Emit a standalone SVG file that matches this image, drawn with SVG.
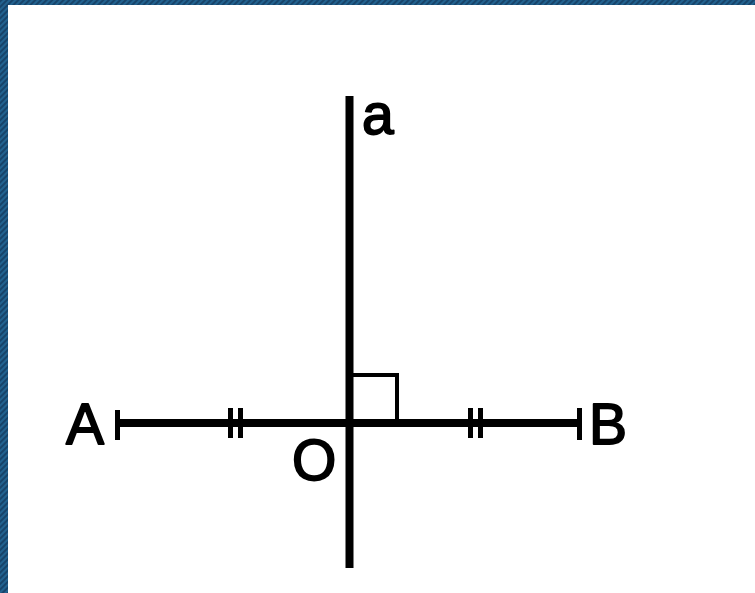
<svg xmlns="http://www.w3.org/2000/svg" width="755" height="593" viewBox="0 0 755 593">
<defs>
<pattern id="stripe" width="4" height="4" patternUnits="userSpaceOnUse" patternTransform="rotate(45)">
<rect width="4" height="4" fill="#22628f"/>
<rect width="2" height="4" fill="#17446a"/>
</pattern>
</defs>
<style>
.ln{stroke:#000;stroke-linecap:butt;fill:none}
.lbl{font-family:"Liberation Sans",Arial,sans-serif;font-size:57px;fill:#000;stroke:#000;stroke-width:1.8;stroke-linejoin:round}
</style>
<rect width="755" height="593" fill="#fff"/>
<rect x="0" y="0" width="755" height="5" fill="url(#stripe)"/>
<rect x="0" y="0" width="8" height="593" fill="url(#stripe)"/>
<g id="connectors">
<line class="ln" x1="349.5" y1="96" x2="349.5" y2="568" stroke-width="8" stroke-linecap="round"/>
<line class="ln" x1="116" y1="423" x2="580" y2="423" stroke-width="8"/>
<line class="ln" x1="117.5" y1="410" x2="117.5" y2="440" stroke-width="5"/>
<line class="ln" x1="579.5" y1="408" x2="579.5" y2="440" stroke-width="5"/>
<line class="ln" x1="230.5" y1="408" x2="230.5" y2="438" stroke-width="5"/>
<line class="ln" x1="240.5" y1="408" x2="240.5" y2="438" stroke-width="5"/>
<line class="ln" x1="470.5" y1="408" x2="470.5" y2="438" stroke-width="5"/>
<line class="ln" x1="480.5" y1="408" x2="480.5" y2="438" stroke-width="5"/>
<polyline class="ln" points="352,375 397,375 397,421" stroke-width="4"/>
</g>
<g id="node-A"><text class="lbl" x="66" y="444">A</text></g>
<g id="node-B"><text class="lbl" x="589" y="444">B</text></g>
<g id="node-O"><text class="lbl" x="292" y="480">O</text></g>
<g id="node-a"><text class="lbl" x="362" y="134">a</text></g>
</svg>
